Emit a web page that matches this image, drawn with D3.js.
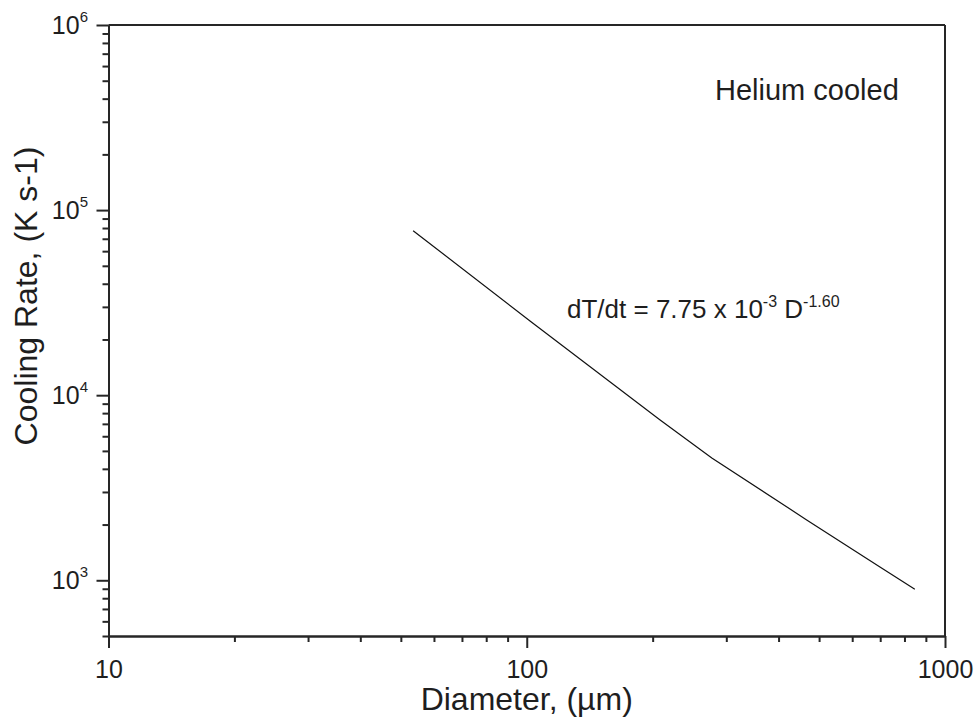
<!DOCTYPE html>
<html>
<head>
<meta charset="utf-8">
<script src="https://cdn.jsdelivr.net/npm/d3@7"></script>
<style>
  body { margin: 0; background: #fff; }
  text { font-family: 'Liberation Sans', Arial, sans-serif; fill: #1e1e1e; }
</style>
</head>
<body>
<div id="view"></div>
<script>
'use strict';

// curve: diameter (um) vs cooling rate (K/s)
const diameters = [53.5, 102, 208, 277, 467, 699, 847];
const coolingRates = [77400, 25100, 7360, 4580, 2120, 1180, 895];

const xMajorTicks = [10, 100, 1000];
const yMajorExponents = [3, 4, 5, 6];

const chartSize = { w: 975, h: 720 };
const margin = { top: 25, right: 30, bottom: 84, left: 108.5 };

const presentation = {
  stroke_axis: '#262626',
  stroke_line: '#111111',
  size_tickLabel: 25,
  size_superscript: 15,
  size_title: 32
};

const x = d3.scaleLog()
  .domain([10, 1000])
  .range([margin.left, chartSize.w - margin.right]);

const y = d3.scaleLog()
  .domain([500, 1e6])
  .range([chartSize.h - margin.bottom, margin.top]);

const svg = d3.select('#view').append('svg')
  .attr('width', chartSize.w)
  .attr('height', chartSize.h);

const xMinor = x.ticks().filter(v => !xMajorTicks.includes(v));
const yMajor = yMajorExponents.map(e => Math.pow(10, e));
const yMinor = y.ticks().filter(v => !yMajor.includes(v));

// frame: top and right lines
const [x0, x1] = x.range();
const [y0, y1] = y.range();

svg.append('line')
  .attr('x1', x0).attr('x2', x1)
  .attr('y1', y1).attr('y2', y1)
  .attr('stroke', presentation.stroke_axis)
  .attr('stroke-width', 2);

svg.append('line')
  .attr('x1', x1).attr('x2', x1)
  .attr('y1', y1).attr('y2', y0)
  .attr('stroke', presentation.stroke_axis)
  .attr('stroke-width', 2);

// bottom axis
const gx = svg.append('g')
  .attr('transform', `translate(0,${y0})`);

gx.append('g')
  .call(d3.axisBottom(x).tickValues(xMinor).tickSize(6).tickSizeOuter(0).tickFormat(''));

gx.append('g')
  .call(d3.axisBottom(x).tickValues(xMajorTicks).tickSize(12).tickSizeOuter(0).tickPadding(12).tickFormat(d3.format('d')));

// left axis
const gy = svg.append('g')
  .attr('transform', `translate(${x0},0)`);

gy.append('g')
  .call(d3.axisLeft(y).tickValues(yMinor).tickSize(6).tickSizeOuter(0).tickFormat(''));

gy.append('g')
  .call(d3.axisLeft(y).tickValues(yMajor).tickSize(12).tickSizeOuter(0).tickFormat(''));

svg.selectAll('.domain, .tick line')
  .attr('stroke', presentation.stroke_axis)
  .attr('stroke-width', 2);

gx.selectAll('.tick text')
  .attr('font-size', presentation.size_tickLabel)
  .attr('font-family', null)
  .attr('fill', null);

// y tick labels as powers of ten
const yLabels = svg.append('g').selectAll('text')
  .data(yMajorExponents)
  .enter()
  .append('text')
  .attr('x', 88)
  .attr('y', e => y(Math.pow(10, e)) + 9)
  .attr('text-anchor', 'end')
  .attr('font-size', presentation.size_tickLabel);

yLabels.append('tspan').text('10');
yLabels.append('tspan')
  .attr('dy', -12)
  .attr('font-size', presentation.size_superscript)
  .text(e => e);

// data curve
const line = d3.line()
  .x(d => x(d[0]))
  .y(d => y(d[1]));

svg.append('path')
  .datum(diameters.map((d, i) => [d, coolingRates[i]]))
  .attr('d', line)
  .attr('fill', 'none')
  .attr('stroke', presentation.stroke_line)
  .attr('stroke-width', 1.2);

// titles
svg.append('text')
  .attr('x', (x0 + x1) / 2)
  .attr('y', 710)
  .attr('text-anchor', 'middle')
  .attr('font-size', presentation.size_title)
  .text('Diameter, (\u00b5m)');

svg.append('text')
  .attr('transform', 'translate(37,296) rotate(-90)')
  .attr('text-anchor', 'middle')
  .attr('font-size', presentation.size_title)
  .text('Cooling Rate, (K s-1)');

svg.append('text')
  .attr('x', 715)
  .attr('y', 100)
  .attr('font-size', 29)
  .text('Helium cooled');

// equation annotation
const eq = svg.append('text')
  .attr('x', 567)
  .attr('y', 318)
  .attr('font-size', 26);

eq.append('tspan').text('dT/dt = 7.75 x 10');
eq.append('tspan').attr('dy', -11).attr('font-size', 16).text('-3');
eq.append('tspan').attr('dy', 11).text(' D');
eq.append('tspan').attr('dy', -11).attr('font-size', 16).text('-1.60');
</script>
</body>
</html>
